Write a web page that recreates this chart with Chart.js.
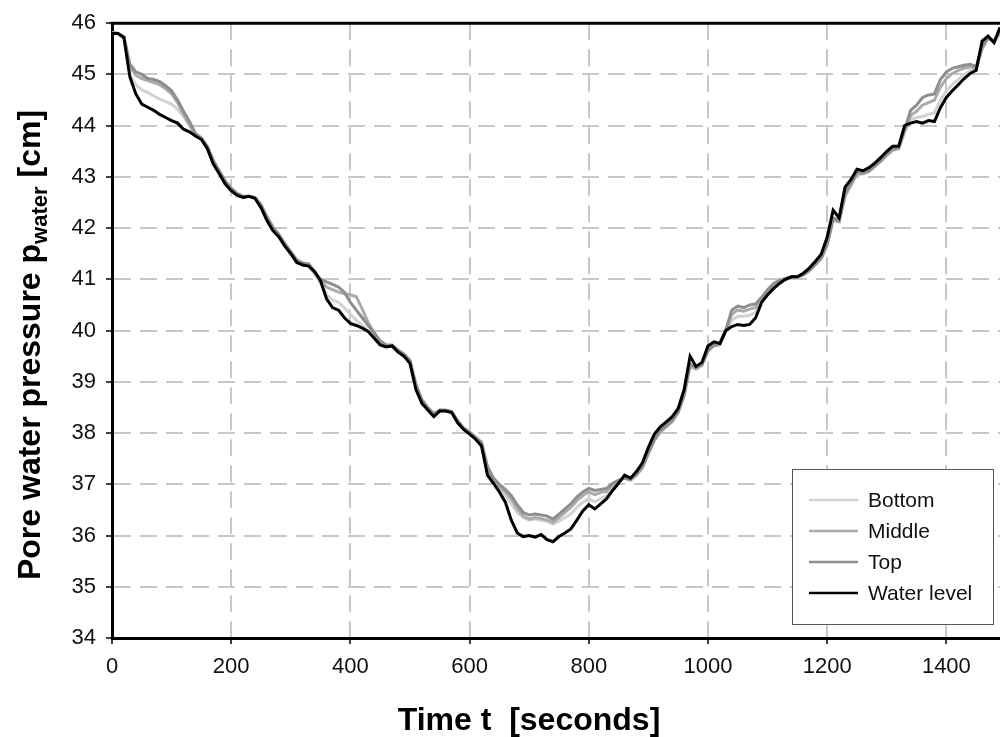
<!DOCTYPE html>
<html>
<head>
<meta charset="utf-8">
<title>Pore water pressure</title>
<script src="https://cdn.jsdelivr.net/npm/chart.js@4.4.1/dist/chart.umd.min.js"></script>
<style>
  html, body { margin: 0; padding: 0; background: #fff; }
  #graficoPressione { display: block; }
</style>
</head>
<body>
<canvas id="graficoPressione" width="1000" height="737"></canvas>
<script>
// time [s]
var tempi = [
  0, 10, 20, 30, 40, 50, 60, 70, 80, 90,
  100, 110, 120, 130, 140, 150, 160, 170, 180, 190,
  200, 210, 220, 230, 240, 250, 260, 270, 280, 290,
  300, 310, 320, 330, 340, 350, 360, 370, 380, 390,
  400, 410, 420, 430, 440, 450, 460, 470, 480, 490,
  500, 510, 520, 530, 540, 550, 560, 570, 580, 590,
  600, 610, 620, 630, 640, 650, 660, 670, 680, 690,
  700, 710, 720, 730, 740, 750, 760, 770, 780, 790,
  800, 810, 820, 830, 840, 850, 860, 870, 880, 890,
  900, 910, 920, 930, 940, 950, 960, 970, 980, 990,
  1000, 1010, 1020, 1030, 1040, 1050, 1060, 1070, 1080, 1090,
  1100, 1110, 1120, 1130, 1140, 1150, 1160, 1170, 1180, 1190,
  1200, 1210, 1220, 1230, 1240, 1250, 1260, 1270, 1280, 1290,
  1300, 1310, 1320, 1330, 1340, 1350, 1360, 1370, 1380, 1390,
  1400, 1410, 1420, 1430, 1440, 1450, 1460, 1470, 1480, 1490
];

// pressure [cm], one value per time step
var sensoreFondo = [
  45.82, 45.80, 45.70, 45.00, 44.80, 44.70, 44.65, 44.58, 44.52, 44.47,
  44.42, 44.32, 44.18, 44.00, 43.82, 43.74, 43.57, 43.28, 43.09, 42.89,
  42.75, 42.66, 42.61, 42.62, 42.59, 42.43, 42.18, 41.98, 41.85, 41.67,
  41.51, 41.35, 41.29, 41.27, 41.10, 40.92, 40.70, 40.60, 40.55, 40.45,
  40.32, 40.20, 40.10, 40.00, 39.88, 39.75, 39.69, 39.70, 39.59, 39.51,
  39.38, 38.90, 38.60, 38.46, 38.34, 38.43, 38.43, 38.40, 38.21, 38.08,
  37.99, 37.89, 37.78, 37.25, 37.05, 36.90, 36.78, 36.62, 36.45, 36.35,
  36.30, 36.32, 36.30, 36.28, 36.22, 36.28, 36.35, 36.42, 36.55, 36.65,
  36.72, 36.66, 36.72, 36.78, 36.92, 37.04, 37.15, 37.10, 37.20, 37.35,
  37.62, 37.88, 38.04, 38.14, 38.24, 38.42, 38.74, 39.32, 39.26, 39.34,
  39.62, 39.72, 39.73, 40.00, 40.20, 40.28, 40.28, 40.30, 40.36, 40.58,
  40.73, 40.85, 40.94, 40.99, 41.03, 41.04, 41.09, 41.18, 41.30, 41.42,
  41.70, 42.18, 42.14, 42.65, 42.86, 43.06, 43.07, 43.12, 43.22, 43.32,
  43.44, 43.54, 43.56, 43.90, 44.12, 44.16, 44.18, 44.22, 44.25, 44.50,
  44.68, 44.80, 44.90, 45.00, 45.08, 45.08, 45.52, 45.72, 45.63, 45.84
];

var sensoreMezzo = [
  45.82, 45.80, 45.72, 45.15, 44.98, 44.92, 44.88, 44.84, 44.80, 44.72,
  44.62, 44.45, 44.22, 44.02, 43.83, 43.75, 43.58, 43.30, 43.10, 42.90,
  42.76, 42.66, 42.61, 42.62, 42.59, 42.44, 42.20, 42.00, 41.86, 41.68,
  41.52, 41.36, 41.30, 41.28, 41.12, 40.98, 40.85, 40.80, 40.75, 40.72,
  40.70, 40.66, 40.42, 40.15, 39.96, 39.78, 39.70, 39.71, 39.60, 39.52,
  39.40, 38.92, 38.62, 38.48, 38.36, 38.44, 38.44, 38.41, 38.22, 38.09,
  38.00, 37.90, 37.80, 37.30, 37.08, 36.95, 36.85, 36.72, 36.52, 36.38,
  36.32, 36.35, 36.33, 36.30, 36.26, 36.35, 36.45, 36.55, 36.68, 36.78,
  36.85, 36.80, 36.84, 36.86, 36.98, 37.06, 37.12, 37.08, 37.18, 37.32,
  37.60, 37.85, 38.02, 38.12, 38.22, 38.40, 38.72, 39.30, 39.25, 39.32,
  39.60, 39.70, 39.72, 40.00, 40.32, 40.40, 40.38, 40.42, 40.45, 40.62,
  40.76, 40.88, 40.96, 41.00, 41.04, 41.04, 41.08, 41.16, 41.28, 41.40,
  41.66, 42.15, 42.12, 42.62, 42.84, 43.05, 43.06, 43.10, 43.20, 43.30,
  43.42, 43.52, 43.55, 43.88, 44.20, 44.28, 44.40, 44.45, 44.50, 44.75,
  44.92, 45.02, 45.08, 45.12, 45.15, 45.12, 45.50, 45.70, 45.63, 45.82
];

var sensoreAlto = [
  45.82, 45.80, 45.74, 45.20, 45.05, 45.00, 44.92, 44.90, 44.86, 44.78,
  44.68, 44.50, 44.28, 44.08, 43.85, 43.76, 43.60, 43.32, 43.12, 42.92,
  42.78, 42.68, 42.62, 42.62, 42.60, 42.46, 42.22, 42.02, 41.88, 41.70,
  41.54, 41.38, 41.32, 41.30, 41.15, 41.00, 40.95, 40.90, 40.85, 40.75,
  40.55, 40.40, 40.25, 40.10, 39.95, 39.80, 39.72, 39.72, 39.62, 39.54,
  39.42, 38.95, 38.65, 38.50, 38.38, 38.45, 38.45, 38.42, 38.24, 38.10,
  38.02, 37.92, 37.82, 37.35, 37.12, 37.00, 36.90, 36.78, 36.60, 36.45,
  36.40, 36.42, 36.40, 36.38, 36.32, 36.42, 36.52, 36.62, 36.75, 36.85,
  36.92, 36.88, 36.90, 36.92, 37.02, 37.08, 37.12, 37.10, 37.20, 37.35,
  37.62, 37.88, 38.05, 38.15, 38.25, 38.42, 38.78, 39.35, 39.28, 39.35,
  39.62, 39.72, 39.75, 40.02, 40.40, 40.48, 40.45, 40.50, 40.52, 40.65,
  40.80, 40.92, 40.98, 41.02, 41.05, 41.05, 41.10, 41.18, 41.30, 41.42,
  41.70, 42.20, 42.15, 42.68, 42.88, 43.08, 43.08, 43.12, 43.22, 43.32,
  43.45, 43.55, 43.58, 43.92, 44.30, 44.40, 44.55, 44.60, 44.62, 44.90,
  45.05, 45.12, 45.15, 45.18, 45.20, 45.15, 45.55, 45.72, 45.65, 45.85
];

var livelloAcqua = [
  45.80, 45.80, 45.72, 44.95, 44.62, 44.42, 44.36, 44.30, 44.22, 44.16,
  44.10, 44.05, 43.93, 43.88, 43.80, 43.73, 43.55, 43.25, 43.06, 42.86,
  42.73, 42.64, 42.60, 42.62, 42.58, 42.40, 42.15, 41.95, 41.83, 41.65,
  41.50, 41.33, 41.28, 41.26, 41.15, 40.97, 40.62, 40.45, 40.40, 40.25,
  40.14, 40.10, 40.05, 39.98, 39.85, 39.72, 39.68, 39.70, 39.58, 39.50,
  39.36, 38.85, 38.58, 38.45, 38.32, 38.43, 38.43, 38.40, 38.20, 38.07,
  37.98, 37.88, 37.75, 37.18, 37.02, 36.85, 36.65, 36.30, 36.05, 35.98,
  36.00, 35.97, 36.02, 35.92, 35.88, 35.98, 36.05, 36.13, 36.30, 36.48,
  36.60, 36.52, 36.62, 36.72, 36.88, 37.02, 37.18, 37.12, 37.25, 37.42,
  37.72, 37.98, 38.12, 38.22, 38.32, 38.48, 38.85, 39.50, 39.30, 39.38,
  39.70, 39.78, 39.75, 40.00, 40.08, 40.12, 40.10, 40.12, 40.25, 40.55,
  40.70, 40.82, 40.92, 41.00, 41.05, 41.05, 41.12, 41.22, 41.35, 41.49,
  41.82, 42.35, 42.20, 42.80, 42.95, 43.15, 43.12, 43.18, 43.27, 43.38,
  43.50, 43.60, 43.60, 44.00, 44.05, 44.08, 44.05, 44.10, 44.08, 44.35,
  44.55, 44.68, 44.80, 44.92, 45.02, 45.08, 45.65, 45.75, 45.62, 45.92
];

var tickX = [0, 200, 400, 600, 800, 1000, 1200, 1400];
var etichette = ["Bottom", "Middle", "Top", "Water level"];

var FONT = "'Liberation Sans', Arial, sans-serif";

function punti(serie) {
  return tempi.map(function(t, i) { return { x: t, y: serie[i] }; });
}

function linea(label, serie, colore, spessore, ordine) {
  return {
    label: label,
    data: punti(serie),
    borderColor: colore,
    backgroundColor: colore,
    borderWidth: spessore,
    pointRadius: 0,
    tension: 0,
    order: ordine
  };
}

// frame top line, axis titles and the boxed legend
var decorazioni = {
  id: 'decorazioni',
  afterDraw: function(chart) {
    var ctx = chart.ctx;
    var a = chart.chartArea;
    ctx.save();

    ctx.strokeStyle = '#000';
    ctx.lineWidth = 3;
    ctx.beginPath();
    ctx.moveTo(a.left - 1.5, a.top);
    ctx.lineTo(a.right, a.top);
    ctx.stroke();

    // x title
    ctx.fillStyle = '#000';
    ctx.font = "bold 32px " + FONT;
    ctx.textAlign = 'center';
    ctx.textBaseline = 'alphabetic';
    ctx.fillText('Time t  [seconds]', 529, 730);

    // y title with subscript
    var parte1 = 'Pore water pressure p';
    var pedice = 'water';
    var parte2 = ' [cm]';
    var fBig = "bold 32px " + FONT;
    var fSmall = "bold 22px " + FONT;
    ctx.font = fBig;
    var w1 = ctx.measureText(parte1).width;
    var w3 = ctx.measureText(parte2).width;
    ctx.font = fSmall;
    var w2 = ctx.measureText(pedice).width;
    var tot = w1 + w2 + w3;
    ctx.translate(40, 345);
    ctx.rotate(-Math.PI / 2);
    ctx.textAlign = 'left';
    var x0 = -tot / 2;
    ctx.font = fBig;
    ctx.fillText(parte1, x0, 0);
    ctx.font = fSmall;
    ctx.fillText(pedice, x0 + w1, 7);
    ctx.font = fBig;
    ctx.fillText(parte2, x0 + w1 + w2, 0);
    ctx.setTransform(1, 0, 0, 1, 0, 0);

    // legend
    var bx = 792, by = 469, bw = 201, bh = 155;
    ctx.fillStyle = '#fff';
    ctx.fillRect(bx, by, bw, bh);
    ctx.strokeStyle = '#555';
    ctx.lineWidth = 1;
    ctx.strokeRect(bx + 0.5, by + 0.5, bw, bh);
    var righe = [500, 531, 562, 593];
    ctx.font = "21px " + FONT;
    ctx.textBaseline = 'middle';
    ctx.textAlign = 'left';
    chart.data.datasets.forEach(function(ds, i) {
      ctx.strokeStyle = ds.borderColor;
      ctx.lineWidth = 2.5;
      ctx.beginPath();
      ctx.moveTo(809, righe[i]);
      ctx.lineTo(858, righe[i]);
      ctx.stroke();
      ctx.fillStyle = '#111';
      ctx.fillText(ds.label, 868, righe[i] + 1);
    });

    ctx.restore();
  }
};

var grafico = new Chart(document.getElementById('graficoPressione'), {
  type: 'line',
  data: {
    datasets: [
      linea(etichette[0], sensoreFondo, '#d2d2d2', 3, 3),
      linea(etichette[1], sensoreMezzo, '#ababab', 3, 2),
      linea(etichette[2], sensoreAlto, '#8e8e8e', 3, 1),
      linea(etichette[3], livelloAcqua, '#000000', 3, 0)
    ]
  },
  options: {
    responsive: false,
    devicePixelRatio: 1,
    animation: false,
    layout: { padding: { top: 15, right: 0, left: 0, bottom: 0 } },
    plugins: {
      legend: { display: false },
      tooltip: { enabled: false }
    },
    scales: {
      x: {
        type: 'linear',
        min: 0,
        max: 1490,
        afterFit: function(scale) { scale.height = 99; },
        afterBuildTicks: function(scale) {
          scale.ticks = tickX.map(function(v) { return { value: v }; });
        },
        ticks: {
          color: '#111',
          font: { family: FONT, size: 22 },
          padding: 10,
          maxRotation: 0,
          callback: function(v) { return String(v); }
        },
        grid: {
          color: '#c8c8c8',
          lineWidth: 2,
          tickColor: '#000',
          tickLength: 6,
          tickWidth: 1.5
        },
        border: { display: true, color: '#000', width: 3, dash: [17, 9] }
      },
      y: {
        min: 34,
        max: 46,
        afterFit: function(scale) { scale.width = 112; },
        ticks: {
          stepSize: 1,
          color: '#111',
          font: { family: FONT, size: 22 },
          padding: 10
        },
        grid: {
          color: '#c8c8c8',
          lineWidth: 2,
          tickColor: '#000',
          tickLength: 6,
          tickWidth: 1.5
        },
        border: { display: true, color: '#000', width: 3, dash: [17, 9] }
      }
    }
  },
  plugins: [decorazioni]
});
</script>
</body>
</html>
